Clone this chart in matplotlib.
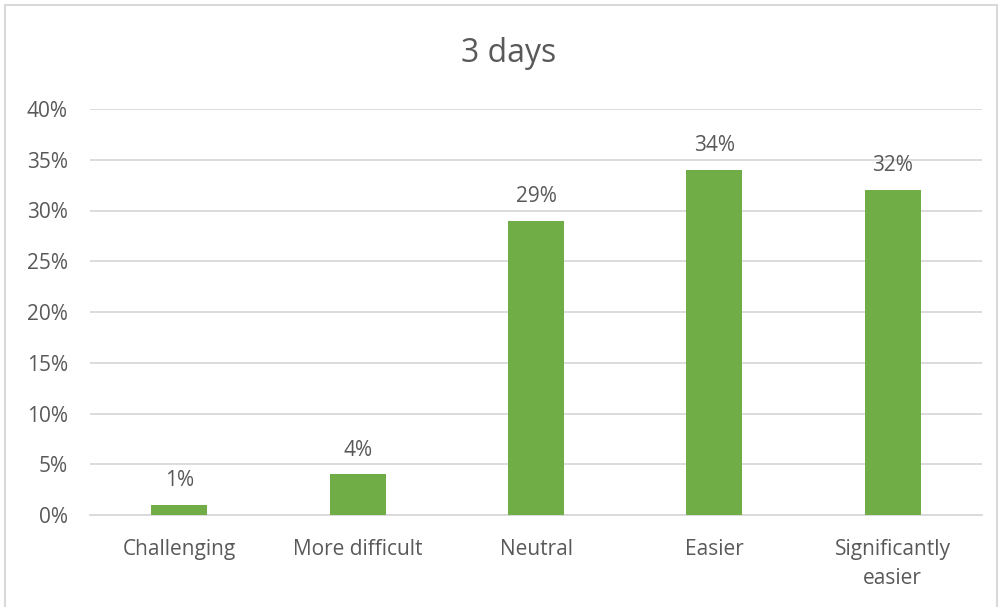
import matplotlib
matplotlib.use("Agg")
import matplotlib.pyplot as plt
from matplotlib.patches import Rectangle

categories = ["Challenging", "More difficult", "Neutral", "Easier", "Significantly\neasier"]
values = [0.01, 0.04, 0.29, 0.34, 0.32]
yticks = [0.0, 0.05, 0.10, 0.15, 0.20, 0.25, 0.30, 0.35, 0.40]

text_color = "#595959"
grid_color = "#D9D9D9"
bar_color = "#70AD47"

plt.rcParams["font.family"] = ["Open Sans", "DejaVu Sans"]

fig = plt.figure(figsize=(10.02, 6.07), dpi=100)
ax = fig.add_axes([90 / 1002, 1 - 515 / 607, (982 - 90) / 1002, (515 - 109) / 607])

x = range(len(categories))
bars = ax.bar(x, values, width=0.314, color=bar_color, zorder=3)
ax.set_xlim(-0.5, len(categories) - 0.5)
ax.set_ylim(0, 0.40)

ax.set_yticks(yticks)
ax.set_yticklabels([f"{int(round(t * 100))}%" for t in yticks])
ax.set_xticks(list(x))
ax.set_xticklabels(categories, linespacing=1.5)
ax.tick_params(axis="both", length=0, colors=text_color, labelsize=15)
ax.tick_params(axis="y", pad=16)
ax.tick_params(axis="x", pad=17)
for lab in ax.get_xticklabels():
    lab.set_verticalalignment("top")

ax.grid(axis="y", color=grid_color, linewidth=1.3, zorder=0)
for s in ["top", "right", "left"]:
    ax.spines[s].set_visible(False)
ax.spines["bottom"].set_color(grid_color)
ax.spines["bottom"].set_linewidth(1.3)

for b, v in zip(bars, values):
    ax.annotate(f"{int(round(v * 100))}%", (b.get_x() + b.get_width() / 2, v),
                xytext=(0, 10), textcoords="offset points", ha="center", va="bottom",
                color=text_color, fontsize=15)

fig.text(0.508, 1 - 53 / 607, "3 days", ha="center", va="center", fontsize=23, color=text_color)

fig.patches.append(Rectangle((5 / 1002, -0.01), 992 / 1002, 1 - 5 / 607 + 0.01,
                             transform=fig.transFigure, fill=False,
                             edgecolor=grid_color, linewidth=1.5))

fig.savefig("out.png", dpi=100)
